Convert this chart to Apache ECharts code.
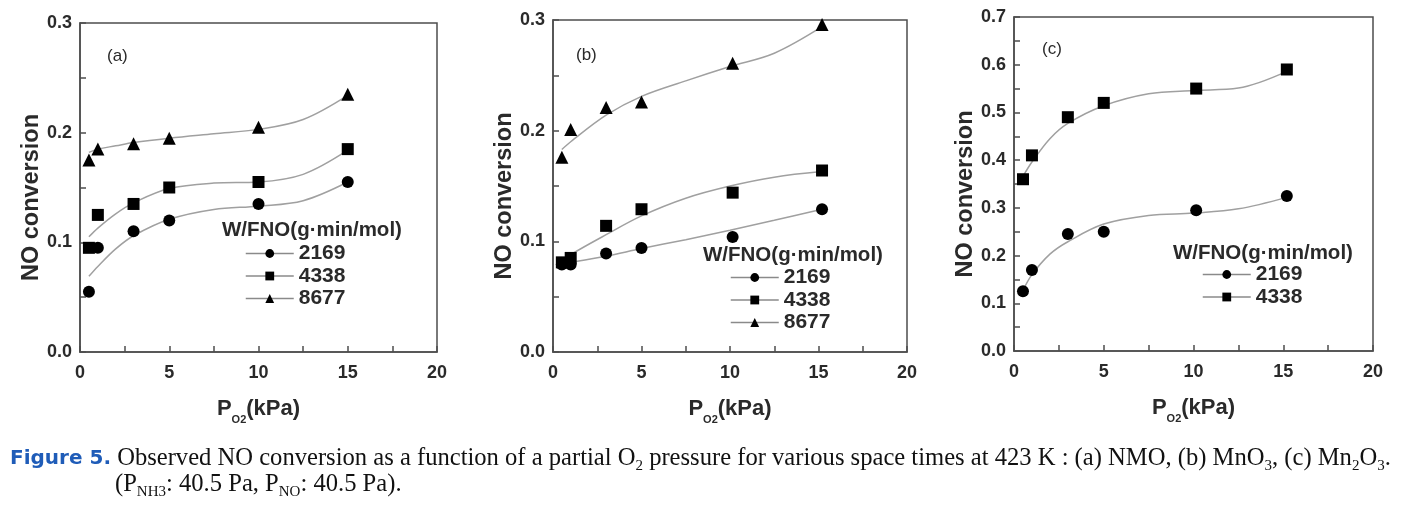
<!DOCTYPE html>
<html><head><meta charset="utf-8">
<script src="https://cdn.jsdelivr.net/npm/echarts@6/dist/echarts.min.js"></script>
<style>html,body{margin:0;padding:0;background:#fff}#c{width:1413px;height:511px}</style>
</head><body><div id="c"></div>
<script>
// ---- data ----
const xTickLabels = ['0', '5', '10', '15', '20'];
const seriesNames = ['2169', '4338', '8677'];
const panelLabels = ['(a)', '(b)', '(c)'];
const legendTitle = 'W/FNO(g·min/mol)';

// (a) NMO
const pO2A = [0.5, 1, 3, 5, 10, 15];
const convA2169 = [0.055, 0.095, 0.11, 0.12, 0.135, 0.155];
const convA4338 = [0.095, 0.125, 0.135, 0.15, 0.155, 0.185];
const convA8677 = [0.175, 0.185, 0.19, 0.195, 0.205, 0.235];
const fitXA = [0.5, 1, 2, 3, 5, 7.5, 10, 12.5, 15];
const fitA2169 = [0.069, 0.078, 0.094, 0.106, 0.121, 0.130, 0.133, 0.138, 0.155];
const fitA4338 = [0.105, 0.113, 0.126, 0.136, 0.149, 0.154, 0.155, 0.162, 0.184];
const fitA8677 = [0.182, 0.185, 0.188, 0.191, 0.195, 0.199, 0.203, 0.212, 0.234];

// (b) MnO3
const pO2B = [0.5, 1, 3, 5, 10.15, 15.2];
const convB2169 = [0.079, 0.079, 0.089, 0.094, 0.104, 0.129];
const convB4338 = [0.081, 0.085, 0.114, 0.129, 0.144, 0.164];
const convB8677 = [0.176, 0.201, 0.221, 0.226, 0.261, 0.296];
const fitXB = [0.5, 1, 3, 5, 7.5, 10, 12.5, 15.2];
const fitB2169 = [0.080, 0.081, 0.0865, 0.0935, 0.1015, 0.110, 0.119, 0.129];
const fitB4338 = [0.082, 0.088, 0.106, 0.123, 0.139, 0.150, 0.158, 0.163];
const fitB8677 = [0.183, 0.190, 0.214, 0.231, 0.245, 0.258, 0.270, 0.294];

// (c) Mn2O3
const pO2C = [0.5, 1, 3, 5, 10.15, 15.2];
const convC2169 = [0.125, 0.17, 0.245, 0.25, 0.295, 0.325];
const convC4338 = [0.36, 0.41, 0.49, 0.52, 0.55, 0.59];
const fitXC = [0.5, 1, 2, 3, 5, 7.5, 10, 12.5, 15.2];
const fitC2169 = [0.127, 0.160, 0.203, 0.229, 0.266, 0.284, 0.289, 0.298, 0.322];
const fitC4338 = [0.366, 0.396, 0.445, 0.477, 0.514, 0.539, 0.546, 0.551, 0.586];

const yMax = [0.3, 0.3, 0.7];

// ---- styling / layout ----
const SANS = '"Liberation Sans", Arial, sans-serif';
const SERIF = '"Liberation Serif", "Times New Roman", serif';
const AX = '#4d4d4d';
const TXT = '#2a2a2a';
const FIT = '#a0a0a0';
const symbols = {'2169': 'circle', '4338': 'rect', '8677': 'triangle'};

const grids = [
  {left: 80, top: 23, width: 357, height: 329},
  {left: 553, top: 20, width: 354, height: 332},
  {left: 1014, top: 17, width: 359, height: 334}
];

const panels = [
  {x: pO2A, fitX: fitXA, obs: [convA2169, convA4338, convA8677], fit: [fitA2169, fitA4338, fitA8677]},
  {x: pO2B, fitX: fitXB, obs: [convB2169, convB4338, convB8677], fit: [fitB2169, fitB4338, fitB8677]},
  {x: pO2C, fitX: fitXC, obs: [convC2169, convC4338], fit: [fitC2169, fitC4338]}
];

const legendPos = [
  {left: 240, top: 238, titleLeft: 222, titleTop: 220},
  {left: 725, top: 262, titleLeft: 703, titleTop: 245},
  {left: 1197, top: 259, titleLeft: 1173, titleTop: 243}
];
const labelPos = [{left: 107, top: 48}, {left: 576, top: 47}, {left: 1042, top: 41}];

function pts(xs, ys) { return xs.map((x, i) => [x, ys[i]]); }

const lineSt = {color: AX, width: 1.5};
const xAxes = grids.map((g, i) => ({
  type: 'value', gridIndex: i, min: 0, max: 20, interval: 5,
  axisLine: {show: true, onZero: false, lineStyle: lineSt},
  axisTick: {show: true, inside: true, length: 6, lineStyle: lineSt},
  minorTick: {show: true, splitNumber: 2, length: 6, lineStyle: lineSt},
  splitLine: {show: false},
  axisLabel: {fontSize: 18, fontWeight: 'bold', color: TXT, fontFamily: SANS, margin: 12,
    formatter: v => xTickLabels[Math.round(v / 5)]},
  name: '{b|P}{s|O2}{b|(kPa)}', nameLocation: 'middle', nameGap: 41,
  nameTextStyle: {
    rich: {
      b: {fontSize: 22, fontWeight: 'bold', color: TXT, fontFamily: SANS, lineHeight: 32},
      s: {fontSize: 11, fontWeight: 'bold', color: TXT, fontFamily: SANS, lineHeight: 12, verticalAlign: 'bottom'}
    }
  }
}));
const yAxes = grids.map((g, i) => ({
  type: 'value', gridIndex: i, min: 0, max: yMax[i], interval: 0.1,
  axisLine: {show: true, onZero: false, lineStyle: lineSt},
  axisTick: {show: true, inside: true, length: 6, lineStyle: lineSt},
  minorTick: {show: true, splitNumber: 2, length: 6, lineStyle: lineSt},
  splitLine: {show: false},
  axisLabel: {fontSize: 18, fontWeight: 'bold', color: TXT, fontFamily: SANS, margin: 8,
    formatter: v => v.toFixed(1)},
  name: 'NO conversion', nameLocation: 'middle', nameGap: 33,
  nameTextStyle: {fontSize: 23.5, fontWeight: 'bold', color: TXT, fontFamily: SANS, padding: [0, 20, 0, 0]}
}));

const series = [];
panels.forEach((p, i) => {
  p.fit.forEach((ys, k) => {
    series.push({
      type: 'line', name: 'fit-' + i + '-' + k, xAxisIndex: i, yAxisIndex: i,
      data: pts(p.fitX, ys), smooth: 0.35, symbol: 'none', silent: true,
      lineStyle: {color: FIT, width: 1.5}, z: 2
    });
  });
  p.obs.forEach((ys, k) => {
    const nm = seriesNames[k];
    series.push({
      type: 'line', name: nm, xAxisIndex: i, yAxisIndex: i,
      data: pts(p.x, ys), symbol: symbols[nm],
      symbolSize: nm === '8677' ? 13 : 12,
      itemStyle: {color: '#000'}, lineStyle: {opacity: 0, width: 0}, z: 3
    });
  });
});

const legends = panels.map((p, i) => ({
  orient: 'vertical', left: legendPos[i].left, top: legendPos[i].top,
  itemWidth: 48, itemHeight: 11, itemGap: 1.5, selectedMode: false,
  data: seriesNames.slice(0, p.obs.length),
  lineStyle: {color: '#8a8a8a', width: 1.5, opacity: 1, type: 'solid'},
  itemStyle: {color: '#000'},
  textStyle: {fontSize: 21, fontWeight: 'bold', color: TXT, fontFamily: SANS, lineHeight: 20}
}));

const graphics = [];
panels.forEach((p, i) => {
  graphics.push({type: 'text', left: legendPos[i].titleLeft, top: legendPos[i].titleTop,
    style: {text: legendTitle, fill: TXT, fontSize: 20.5, fontWeight: 'bold', fontFamily: SANS}});
  graphics.push({type: 'text', left: labelPos[i].left, top: labelPos[i].top,
    style: {text: panelLabels[i], fill: TXT, fontSize: 17, fontFamily: SANS}});
});
const capRich = {
  fig: {fill: '#1f5cb8', fontSize: 20, fontWeight: 'bold', fontFamily: '"DejaVu Sans", sans-serif', lineHeight: 30},
  t: {fill: '#111', fontSize: 24.6, fontFamily: SERIF, lineHeight: 30},
  s: {fill: '#111', fontSize: 15, fontFamily: SERIF, lineHeight: 15, verticalAlign: 'bottom'}
};
graphics.push({type: 'text', left: 10, top: 446, style: {
  text: '{fig|Figure 5.}{t| Observed NO conversion as a function of a partial O}{s|2}{t| pressure for various space times at 423 K : (a) NMO, (b) MnO}{s|3}{t|, (c) Mn}{s|2}{t|O}{s|3}{t|.}',
  rich: capRich}});
graphics.push({type: 'text', left: 115, top: 472, style: {
  text: '{t|(P}{s|NH3}{t|: 40.5 Pa, P}{s|NO}{t|: 40.5 Pa).}',
  rich: capRich}});

const chart = echarts.init(document.getElementById('c'));
chart.setOption({
  animation: false,
  backgroundColor: '#fff',
  grid: grids.map(g => Object.assign({show: true, borderColor: AX, borderWidth: 1.5, backgroundColor: 'transparent', containLabel: false}, g)),
  xAxis: xAxes,
  yAxis: yAxes,
  legend: legends,
  series: series,
  graphic: graphics
});
</script></body></html>
